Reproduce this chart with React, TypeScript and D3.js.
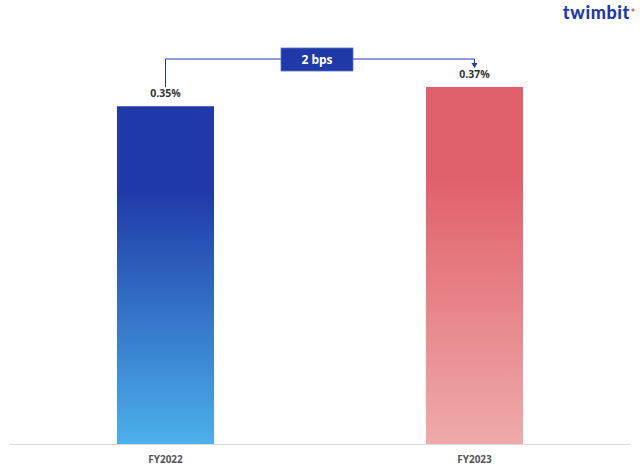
import React from "react";
import * as d3 from "d3";

const categories = ["FY2022", "FY2023"];
const values = [0.35, 0.37];
const valueLabels = ["0.35%", "0.37%"];
const deltaLabel = "2 bps";

const W = 640;
const H = 474;
const baseY = 444;

export default function App() {
  const x = d3
    .scaleBand<string>()
    .domain(categories)
    .range([11, 629])
    .paddingInner(0.686)
    .paddingOuter(0.343);
  const y = d3.scaleLinear().domain([0, 0.4]).range([baseY, baseY - 0.4 * 965]);
  const bw = x.bandwidth();
  const grads = [
    { id: "gBlue", top: "#1f3aa8", bottom: "#4bb0ea" },
    { id: "gRed", top: "#e0606a", bottom: "#efaaaa" },
  ];
  const c0 = (x(categories[0]) as number) + bw / 2;
  const c1 = (x(categories[1]) as number) + bw / 2;
  const bracketY = 59;
  const boxCx = (c0 + c1) / 2 - 3;
  return (
    <svg
      width={W}
      height={H}
      style={{ position: "absolute", left: 0, top: 0, background: "#fff" }}
      fontFamily="'Open Sans', 'Liberation Sans', sans-serif"
    >
      <defs>
        {grads.map((g) => (
          <linearGradient key={g.id} id={g.id} x1="0" y1="0" x2="0" y2="1">
            <stop offset="0%" stopColor={g.top} />
            <stop offset="25%" stopColor={g.top} />
            <stop offset="100%" stopColor={g.bottom} />
          </linearGradient>
        ))}
      </defs>
      <text
        x={630}
        y={19}
        textAnchor="end"
        fontFamily="'Lato', 'Open Sans', sans-serif"
        fontWeight={900}
        fontSize={18}
        letterSpacing={0.6}
        fill="#1f3aa8"
      >
        twimbit
      </text>
      <circle cx={633} cy={10} r={1.6} fill="#e8606a" />
      {categories.map((c, i) => (
        <rect
          key={c}
          x={x(c)}
          y={y(values[i])}
          width={bw}
          height={baseY - y(values[i])}
          fill={`url(#${grads[i].id})`}
        />
      ))}
      <line x1={10} x2={630} y1={baseY + 0.5} y2={baseY + 0.5} stroke="#dcdcdc" strokeWidth={1.2} />
      {categories.map((c, i) => (
        <text
          key={c + "l"}
          x={(x(c) as number) + bw / 2}
          y={463}
          textAnchor="middle"
          fontSize={10}
          fontWeight={700}
          fill="#555"
        >
          {c}
        </text>
      ))}
      {categories.map((c, i) => (
        <text
          key={c + "v"}
          x={(x(c) as number) + bw / 2}
          y={y(values[i]) - 9}
          textAnchor="middle"
          fontSize={10.5}
          fontWeight={700}
          fill="#333"
        >
          {valueLabels[i]}
        </text>
      ))}
      <path
        d={`M${c0},${y(values[0]) - 19} V${bracketY} H${c1} V${y(values[1]) - 23}`}
        fill="none"
        stroke="#1f3aa8"
        strokeWidth={1}
      />
      <path
        d={`M${c1 - 3},${y(values[1]) - 24} L${c1 + 3},${y(values[1]) - 24} L${c1},${y(values[1]) - 19} Z`}
        fill="#1f3aa8"
      />
      <rect x={boxCx - 36} y={48} width={72} height={23} fill="#1f3aa8" stroke="#5a6fc4" strokeWidth={0.8} />
      <text x={boxCx} y={63.5} textAnchor="middle" fontSize={12} fontWeight={700} fill="#fff">
        {deltaLabel}
      </text>
    </svg>
  );
}
